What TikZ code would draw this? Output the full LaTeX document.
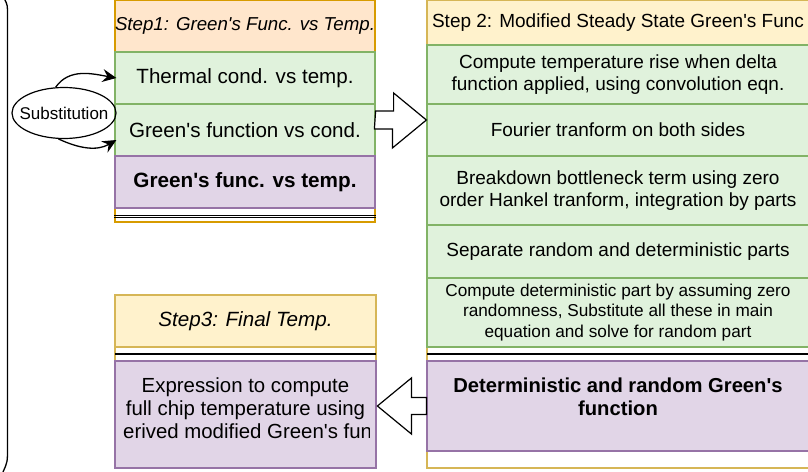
\documentclass[tikz,border=0pt]{standalone}
\usepackage{fontspec}
\setmainfont{Liberation Sans}
\usetikzlibrary{calc,arrows.meta,shapes.geometric}

\definecolor{hdrorange}{HTML}{FFE6CC}
\definecolor{lineorange}{HTML}{D79B00}
\definecolor{hdryellow}{HTML}{FFF2CC}
\definecolor{lineyellow}{HTML}{D6B656}
\definecolor{rowgreen}{HTML}{E0F2DC}
\definecolor{linegreen}{HTML}{82B366}
\definecolor{rowpurple}{HTML}{E1D5E7}
\definecolor{linepurple}{HTML}{9673A6}

\newcommand{\ap}{\textquotesingle}

\begin{document}
\begin{tikzpicture}[x=1pt,y=-1pt,
	box/.style={draw,rectangle,inner sep=0pt,align=center,line width=1.2pt},
	lane/.style={box,fill=white},
	greenrow/.style={box,fill=rowgreen,draw=linegreen},
	purplerow/.style={box,fill=rowpurple,draw=linepurple},
	orangehdr/.style={box,fill=hdrorange,draw=lineorange},
	yellowhdr/.style={box,fill=hdryellow,draw=lineyellow},
	stepone/.style={minimum width=260pt},
	steptwo/.style={minimum width=382pt},
	stepthree/.style={minimum width=261pt},
	sepline/.style={line width=1pt,black},
	blockarrow/.style={draw,fill=white,line width=1.2pt,line join=miter},
	subarrow/.style={line width=1.3pt,-{Stealth[length=14pt,width=13pt,inset=5pt]}}]

\clip (0,0) rectangle (808,471);

% bracket at the left edge
\draw[line width=1.3pt] (4.5,-1) .. controls (7.5,5) .. (7.5,15) -- (7.5,448)
	.. controls (7.5,462) .. (3,472);

% lanes
\node[lane,draw=lineorange,stepone,minimum height=222pt] (step1) at (245,111) {};
\node[lane,draw=lineyellow,steptwo,minimum height=468pt] (step2) at (618,234) {};
\node[lane,draw=lineyellow,stepthree,minimum height=173pt] (step3) at (245.5,381.5) {};

% Step 1
\node[orangehdr,stepone,minimum height=52pt,font=\fontsize{18.7}{22}\selectfont\itshape]
	(s1hdr) at (245,26) {Step1: Green\ap s Func. vs Temp.};
\node[greenrow,stepone,minimum height=52pt,font=\fontsize{20.6}{24}\selectfont]
	(s1a) at (245,78) {Thermal cond. vs temp.};
\node[greenrow,stepone,minimum height=52pt,font=\fontsize{20.6}{24}\selectfont]
	(s1b) at (245,130) {Green\ap s function vs cond.};
\node[purplerow,stepone,minimum height=52pt,font=\fontsize{20.7}{24}\selectfont\bfseries]
	(s1c) at (245,182) {Green\ap s func. vs temp.};
\draw[sepline] ([yshift=7.6pt]step1.south west) -- ([yshift=7.6pt]step1.south east);
\draw[sepline] ([yshift=5.1pt]step1.south west) -- ([yshift=5.1pt]step1.south east);

% Step 2
\node[yellowhdr,steptwo,minimum height=45pt,font=\fontsize{19}{22}\selectfont]
	(s2hdr) at (618,22.5) {Step 2: Modified Steady State Green\ap s Func};
\foreach \nm/\ya/\yb/\txt in {
	s2a/45/104/{Compute temperature rise when delta\\function applied, using convolution eqn.},
	s2b/104/156/{Fourier tranform on both sides},
	s2c/156/225/{Breakdown bottleneck term using zero\\order Hankel tranform, integration by parts},
	s2d/225/278/{Separate random and deterministic parts}}
	{
	\node[greenrow,steptwo,minimum height={(\yb-\ya)*1pt},font=\fontsize{19}{22}\selectfont]
		(\nm) at (618,{(\ya+\yb)/2}) {\txt};
	}
\node[greenrow,steptwo,minimum height=69pt,font=\fontsize{17.2}{20.5}\selectfont]
	(s2e) at (618,312.5) {Compute deterministic part by assuming zero\\randomness, Substitute all these in main\\equation and solve for random part};
\draw[line width=2pt] (427,354) -- (809,354);
\node[purplerow,steptwo,minimum height=90pt] (s2f) at (618,406) {};
\node[align=center,font=\fontsize{20.2}{23}\selectfont\bfseries]
	(s2ftext) at (618,397) {Deterministic and random Green\ap s\\function};

% Step 3
\node[yellowhdr,stepthree,minimum height=52pt,font=\fontsize{20.6}{24}\selectfont\itshape]
	(s3hdr) at (245.5,321) {Step3: Final Temp.};
\draw[line width=2pt] (115,354) -- (376,354);
\node[purplerow,stepthree,minimum height=107pt] (s3body) at (245.5,414.5) {};
\begin{scope}
\clip (123.5,362) rectangle (369,467);
\node[align=center,font=\fontsize{20.4}{23.3}\selectfont]
	(s3text) at (245.5,408.3) {Expression to compute\\full chip temperature using\\\hspace*{36pt}derived modified Green\ap s function};
\end{scope}

% block arrows between the steps
\coordinate (tipR) at ([yshift=10pt]s2b.west);
\draw[blockarrow] ($(s1b.east)+(0,-19)$) -- ++(18,0) -- ++(0,-18) -- (tipR)
	-- ++(-34,28) -- ++(0,-19) -- ++(-18,0) -- cycle;
\coordinate (tipL) at ($(s2f.west)+(-49,0)$);
\draw[blockarrow] ($(s2f.west)+(0,-8.5)$) -- ++(-15,0) -- ++(0,-19.5) -- (tipL)
	-- ++(34,28) -- ++(0,-19.5) -- ++(15,0) -- cycle;

% substitution loop
\node[draw,ellipse,line width=1.2pt,inner xsep=-15pt,inner ysep=0pt,
	minimum width=104pt,minimum height=51pt,font=\fontsize{17}{20}\selectfont]
	(sub) at (64,113) {Substitution};
\draw[subarrow] (sub.108) to[out=55,in=170] ([xshift=2pt]s1a.west);
\draw[subarrow] (sub.-102) to[out=-25,in=210] ([xshift=2pt,yshift=-10pt]s1b.west);
\end{tikzpicture}
\end{document}
